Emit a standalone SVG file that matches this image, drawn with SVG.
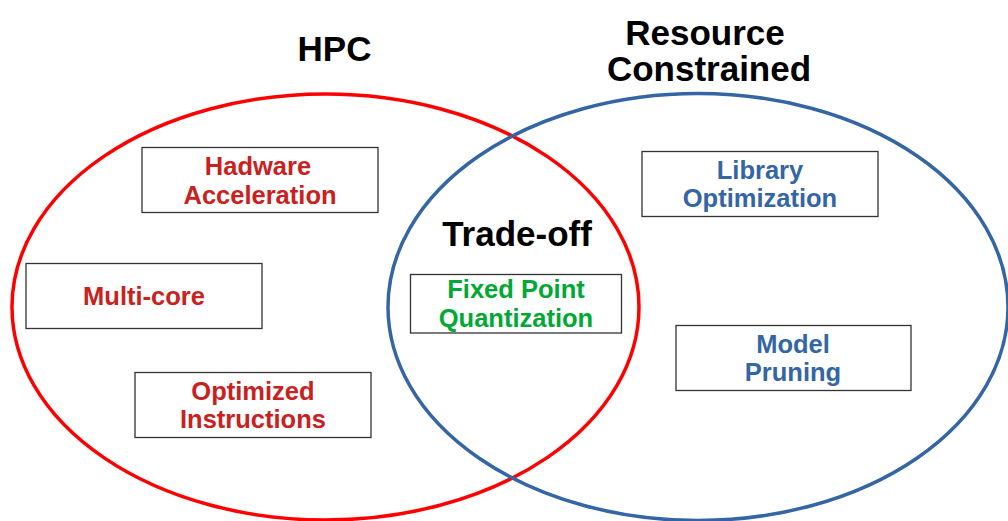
<svg xmlns="http://www.w3.org/2000/svg" width="1008" height="521" viewBox="0 0 1008 521">
<style>
text{font-family:"Liberation Sans",Arial,sans-serif;font-weight:bold;text-anchor:middle}
.title{font-size:35px;fill:#000}
.lbl{font-size:25.5px}
.red{fill:#c9211e}
.blue{fill:#3465a4}
.green{fill:#00a933}
.box{fill:#fff;stroke:#333;stroke-width:1.3}
</style>
<rect width="1008" height="521" fill="#fff"/>
<g id="sets">
<ellipse id="hpc-set" cx="325.5" cy="307" rx="313.5" ry="213" fill="none" stroke="#ff0000" stroke-width="3.5"/>
<ellipse id="rc-set" cx="698" cy="307" rx="310" ry="213.5" fill="none" stroke="#3465a4" stroke-width="3.5"/>
</g>
<g id="titles">
<text class="title" x="334.5" y="61">HPC</text>
<text class="title" x="705" y="45">Resource</text>
<text class="title" x="709" y="81">Constrained</text>
<text class="title" x="517" y="246">Trade-off</text>
</g>
<g id="hw-accel">
<rect class="box" x="142" y="147.5" width="236" height="65"/>
<text class="lbl red" x="258" y="175">Hadware</text>
<text class="lbl red" x="260" y="204">Acceleration</text>
</g>
<g id="multicore">
<rect class="box" x="26" y="263.5" width="236" height="65"/>
<text class="lbl red" x="144" y="305">Multi-core</text>
</g>
<g id="opt-instr">
<rect class="box" x="135" y="372.5" width="236" height="65"/>
<text class="lbl red" x="253" y="399.5">Optimized</text>
<text class="lbl red" x="253" y="428">Instructions</text>
</g>
<g id="fixed-point">
<rect class="box" x="410.5" y="274.5" width="211" height="58.5"/>
<text class="lbl green" x="516" y="298">Fixed Point</text>
<text class="lbl green" x="516" y="327">Quantization</text>
</g>
<g id="library-opt">
<rect class="box" x="642" y="151.5" width="236" height="65"/>
<text class="lbl blue" x="760" y="179">Library</text>
<text class="lbl blue" x="760" y="207">Optimization</text>
</g>
<g id="model-pruning">
<rect class="box" x="676" y="325.5" width="235" height="65"/>
<text class="lbl blue" x="793" y="353">Model</text>
<text class="lbl blue" x="793" y="381">Pruning</text>
</g>
<g id="connectors"></g>
</svg>
